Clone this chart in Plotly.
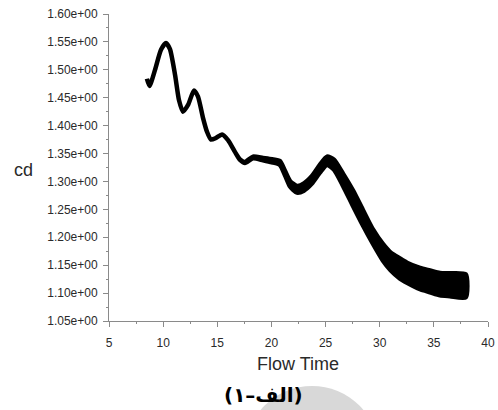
import plotly.graph_objects as go

# ---- data ----
flow_time = [8.50, 8.74, 9.25, 9.80, 10.26, 10.63, 11.10, 11.46, 11.83, 12.30,
             12.85, 13.22, 13.68, 14.05, 14.42, 14.88, 15.43, 15.99, 16.63, 17.10,
             17.56, 18.30, 19.22, 20.05, 20.79, 21.25, 21.71, 22.36, 23.00, 23.74,
             24.48, 25.13, 25.78, 26.61, 27.53, 28.45, 29.38, 30.30, 31.00, 31.87,
             32.52, 33.72, 34.64, 35.56, 36.49, 37.95]
cd_center = [1.484, 1.471, 1.500, 1.536, 1.548, 1.537, 1.491, 1.446, 1.425, 1.437,
             1.463, 1.452, 1.414, 1.389, 1.375, 1.378, 1.384, 1.374, 1.353, 1.339,
             1.334, 1.343, 1.340, 1.337, 1.333, 1.315, 1.296, 1.286, 1.290, 1.303,
             1.323, 1.337, 1.330, 1.303, 1.270, 1.235, 1.201, 1.173, 1.157, 1.144,
             1.1365, 1.126, 1.121, 1.116, 1.115, 1.113]
# half height of the oscillation band around the centre line
cd_amp = [0.0, 0.0, 0.0, 0.0, 0.0, 0.0, 0.0, 0.0, 0.0, 0.0,
          0.0, 0.0, 0.0, 0.0, 0.0, 0.0, 0.0, 0.0, 0.0, 0.0005,
          0.001, 0.0015, 0.002, 0.0027, 0.0035, 0.004, 0.005, 0.006, 0.0065, 0.0068,
          0.0072, 0.0075, 0.009, 0.011, 0.014, 0.014, 0.013, 0.015, 0.016, 0.018,
          0.018, 0.019, 0.0195, 0.020, 0.0205, 0.0205]

x_ticks = [5, 10, 15, 20, 25, 30, 35, 40]
y_ticks = [1.05, 1.10, 1.15, 1.20, 1.25, 1.30, 1.35, 1.40, 1.45, 1.50, 1.55, 1.60]
y_tick_labels = ["1.05e+00", "1.10e+00", "1.15e+00", "1.20e+00", "1.25e+00", "1.30e+00",
                 "1.35e+00", "1.40e+00", "1.45e+00", "1.50e+00", "1.55e+00", "1.60e+00"]

upper = [c + a for c, a in zip(cd_center, cd_amp)]
lower = [c - a for c, a in zip(cd_center, cd_amp)]
poly_x = flow_time + flow_time[::-1]
poly_y = upper + lower[::-1]

fig = go.Figure()
fig.add_trace(go.Scatter(
    x=poly_x, y=poly_y, mode="lines", fill="toself",
    fillcolor="black", line=dict(color="black", width=4.5, shape="spline", smoothing=0.6),
    hoverinfo="skip", showlegend=False))

axis_col = "#8a8a8a"
tick_font = dict(family="Liberation Sans, Arial, sans-serif", size=12, color="#2a2a2a")

PL, PR, PT, PB = 109, 488, 14, 321   # plot area in page pixels
W, H = 498, 410

def px(xp):
    return (xp - PL) / (PR - PL)

def py(yp):
    return (PB - yp) / (PB - PT)

fig.update_layout(
    width=W, height=H,
    margin=dict(l=PL, r=W - PR, t=PT, b=H - PB),
    paper_bgcolor="white", plot_bgcolor="white",
    showlegend=False,
    xaxis=dict(range=[5, 40], tickvals=x_ticks, ticktext=[str(v) for v in x_ticks],
               showgrid=False, zeroline=False, showline=True, linecolor=axis_col, linewidth=1,
               ticks="outside", ticklen=5, tickcolor=axis_col, tickfont=tick_font,
               minor=dict(dtick=2.5, ticks="outside", ticklen=2, tickcolor=axis_col),
               ticklabelstandoff=6, automargin=False),
    yaxis=dict(range=[1.05, 1.60], tickvals=y_ticks, ticktext=y_tick_labels,
               showgrid=False, zeroline=False, showline=True, linecolor=axis_col, linewidth=1,
               ticks="outside", ticklen=5, tickcolor=axis_col, tickfont=tick_font,
               minor=dict(dtick=0.025, tick0=1.05, ticks="outside", ticklen=2, tickcolor=axis_col),
               ticklabelstandoff=3, automargin=False),
)

# watermark-like grey circle at the bottom
fig.add_shape(type="circle", xref="paper", yref="paper",
              x0=px(245), x1=px(379), y0=py(520), y1=py(386),
              fillcolor="#d8d8d8", line=dict(width=0), layer="below")

fig.add_annotation(text="cd", xref="paper", yref="paper",
                   x=px(23), y=py(170), showarrow=False,
                   xanchor="center", yanchor="middle",
                   font=dict(family="Liberation Sans, Arial, sans-serif", size=18, color="#2a2a2a"))
fig.add_annotation(text="Flow Time", xref="paper", yref="paper",
                   x=px(298), y=py(364), showarrow=False,
                   xanchor="center", yanchor="middle",
                   font=dict(family="Liberation Sans, Arial, sans-serif", size=18, color="#2a2a2a"))
fig.add_annotation(text="<b>(\u06f1\u2013\u0627\u0644\u0641)</b>", xref="paper", yref="paper",
                   x=px(263), y=py(395), showarrow=False,
                   xanchor="center", yanchor="middle",
                   font=dict(family="DejaVu Sans, sans-serif", size=20, color="black"))

fig.write_html(
    "out.html",
    config={"displayModeBar": False},
    post_script="document.body.style.margin='0';document.body.style.overflow='hidden';",
)
